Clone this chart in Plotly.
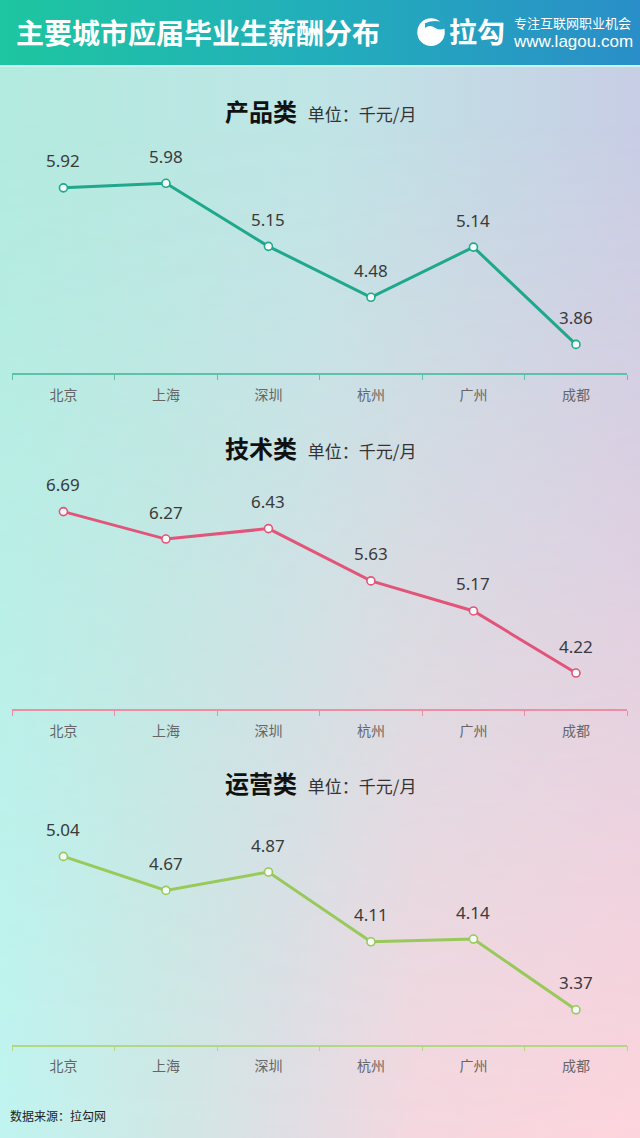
import base64
import plotly.graph_objects as go

cities = ["北京", "上海", "深圳", "杭州", "广州", "成都"]
product = [5.92, 5.98, 5.15, 4.48, 5.14, 3.86]
tech = [6.69, 6.27, 6.43, 5.63, 5.17, 4.22]
ops = [5.04, 4.67, 4.87, 4.11, 4.14, 3.37]

panels = [
    ("产品类", product, "#1fa88b", "#5cc2ac", [3.48, 6.55], [0.672, 0.877], 0.903),
    ("技术类", tech, "#e2557a", "#ec8fa3", [3.67, 7.24], [0.377, 0.582], 0.607),
    ("运营类", ops, "#98c95a", "#b3d884", [2.99, 5.53], [0.082, 0.287], 0.312),
]

FONT = "Noto Sans CJK SC"

# background gradient drawn as an svg image behind the plot
bg_svg = """<svg xmlns='http://www.w3.org/2000/svg' width='640' height='1138' viewBox='0 0 640 1138' preserveAspectRatio='none'>
<defs>
<linearGradient id='top' x1='0' y1='0' x2='1' y2='0'>
<stop offset='0' stop-color='#b3ebdf'/><stop offset='0.5' stop-color='#c0e5e6'/><stop offset='1' stop-color='#c8cee5'/>
</linearGradient>
<linearGradient id='bot' x1='0' y1='0' x2='1' y2='0'>
<stop offset='0' stop-color='#c0f4f0'/><stop offset='0.25' stop-color='#cfe8e6'/><stop offset='0.45' stop-color='#e0dee4'/>
<stop offset='0.65' stop-color='#f5d7df'/><stop offset='1' stop-color='#fdd4dc'/>
</linearGradient>
<linearGradient id='fade' x1='0' y1='0' x2='0' y2='1'>
<stop offset='0.1' stop-color='black'/><stop offset='1' stop-color='white'/>
</linearGradient>
<mask id='m'><rect width='640' height='1138' fill='url(#fade)'/></mask>
<linearGradient id='hdr' x1='0' y1='0' x2='1' y2='0'>
<stop offset='0' stop-color='#1ec6a0'/><stop offset='0.5' stop-color='#22aebb'/><stop offset='1' stop-color='#2a8ec8'/>
</linearGradient>
</defs>
<rect width='640' height='1138' fill='url(#top)'/>
<rect width='640' height='1138' fill='url(#bot)' mask='url(#m)'/>
<rect width='640' height='65' fill='url(#hdr)'/>
<rect y='65' width='640' height='2' fill='#c8f3ee'/>
</svg>"""
bg_uri = "data:image/svg+xml;base64," + base64.b64encode(bg_svg.encode("utf-8")).decode()

fig = go.Figure()

layout = dict(
    width=640, height=1138,
    margin=dict(l=0, r=0, t=0, b=0),
    paper_bgcolor="#c0ece6", plot_bgcolor="rgba(0,0,0,0)",
    showlegend=False,
    font=dict(family=FONT, color="#333333"),
    images=[dict(source=bg_uri, xref="paper", yref="paper", x=0, y=1,
                 sizex=1, sizey=1, sizing="stretch", layer="below",
                 xanchor="left", yanchor="top")],
)

annotations = []
for i, (name, vals, color, axcolor, yr, dom, ty) in enumerate(panels):
    n = "" if i == 0 else str(i + 1)
    fig.add_trace(go.Scatter(
        x=cities, y=vals, mode="lines+markers",
        line=dict(color=color, width=3),
        marker=dict(size=8, color="#f4fbf9", line=dict(color=color, width=1.6)),
        xaxis="x" + n, yaxis="y" + n, cliponaxis=False,
    ))
    for c, v in zip(cities, vals):
        annotations.append(dict(
            x=c, y=v, xref="x" + n, yref="y" + n, text=f"{v:.2f}",
            showarrow=False, yshift=27,
            font=dict(size=17, color="#3a3a3a", family="Noto Sans"),
        ))
    annotations.append(dict(
        x=0.5, y=ty, xref="paper", yref="paper", showarrow=False, yanchor="middle",
        text=f"<b>{name}</b>  <span style='font-size:17px;color:#333'>单位：千元/月</span>",
        font=dict(size=24, color="#111111", family=FONT),
    ))
    layout["xaxis" + n] = dict(
        domain=[0.019, 0.98], anchor="y" + n, type="category",
        categoryorder="array", categoryarray=cities, range=[-0.5, 5.5],
        showline=True, linecolor=axcolor, linewidth=1.5,
        ticks="outside", tickson="boundaries", ticklen=5, tickcolor=axcolor,
        tickwidth=1, showgrid=False, zeroline=False, ticklabelstandoff=8,
        tickfont=dict(size=14, color="#666666", family=FONT),
    )
    layout["yaxis" + n] = dict(
        domain=dom, anchor="x" + n, range=yr, visible=False, fixedrange=True,
    )

# header text
annotations += [
    dict(x=0.022, y=0.972, xref="paper", yref="paper", xanchor="left", yanchor="middle",
         showarrow=False, text="<b>主要城市应届毕业生薪酬分布</b>",
         font=dict(size=28, color="white", family=FONT)),
    dict(x=0.698, y=0.9725, xref="paper", yref="paper", xanchor="left", yanchor="middle",
         showarrow=False, text="<b>拉勾</b>", font=dict(size=28, color="white", family=FONT)),
    dict(x=0.800, y=0.9805, xref="paper", yref="paper", xanchor="left", yanchor="middle",
         showarrow=False, text="专注互联网职业机会", font=dict(size=13, color="white", family=FONT)),
    dict(x=0.799, y=0.9635, xref="paper", yref="paper", xanchor="left", yanchor="middle",
         showarrow=False, text="www.lagou.com",
         font=dict(size=17, color="white", family="Liberation Sans")),
    dict(x=0.012, y=0.0202, xref="paper", yref="paper", xanchor="left", yanchor="middle",
         showarrow=False, text="数据来源：拉勾网", font=dict(size=12, color="#222222", family=FONT)),
]
layout["annotations"] = annotations

# logo circle
layout["shapes"] = [
    dict(type="circle", xref="paper", yref="paper",
         x0=0.652, x1=0.695, y0=0.9595, y1=0.984,
         fillcolor="white", line=dict(width=0)),
    dict(type="path", xref="paper", yref="paper",
         path="M 0.664,0.9755 Q 0.672,0.979 0.680,0.9755 Q 0.688,0.9725 0.696,0.9755 L 0.696,0.9795 Q 0.680,0.9835 0.664,0.9795 Z",
         fillcolor="#27a2c2", line=dict(width=0)),
]

fig.update_layout(**layout)
fig.write_html("out.html", config={"displayModeBar": False},
               post_script="document.body.style.margin='0';")
